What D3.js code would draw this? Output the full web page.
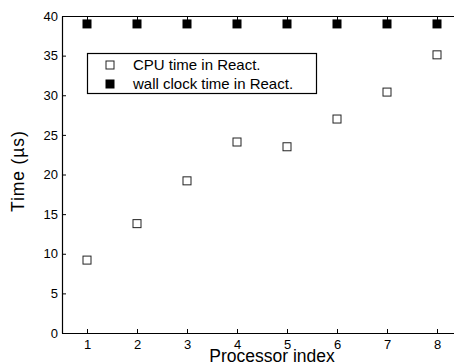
<!DOCTYPE html>
<html>
<head>
<meta charset="utf-8">
<script src="https://cdn.jsdelivr.net/npm/d3@7"></script>
<style>
  body { margin: 0; background: #fff; }
  svg text { font-family: "Liberation Sans", Arial, Helvetica, sans-serif; fill: #000; }
</style>
</head>
<body>
<div id="chart"></div>
<script>
var processors = [1, 2, 3, 4, 5, 6, 7, 8];
var cpuTime = [9.2, 13.8, 19.2, 24.1, 23.5, 27.0, 30.4, 35.1];
var wallTime = [39, 39, 39, 39, 39, 39, 39, 39];
var yTicks = [0, 5, 10, 15, 20, 25, 30, 35, 40];
var legendLabels = ["CPU time in React.", "wall clock time in React."];

var width = 454, height = 364;

var svg = d3.select("#chart").append("svg")
    .attr("width", width)
    .attr("height", height);

var x = d3.scaleLinear().domain([0.5, 8.5]).range([62, 462]);
var y = d3.scaleLinear().domain([0, 40]).range([333, 16]);

// axes with inward ticks
var bottom = svg.append("g")
    .attr("transform", "translate(0," + y(0) + ")")
    .call(d3.axisBottom(x).tickValues(processors).tickSizeInner(-4).tickSizeOuter(0).tickPadding(8));
var top = svg.append("g")
    .attr("transform", "translate(0," + y(40) + ")")
    .call(d3.axisTop(x).tickValues(processors).tickSizeInner(-4).tickSizeOuter(0).tickFormat(""));
var left = svg.append("g")
    .attr("transform", "translate(" + x(0.5) + ",0)")
    .call(d3.axisLeft(y).tickValues(yTicks).tickSizeInner(-4).tickSizeOuter(0).tickPadding(4));

svg.selectAll(".domain").attr("stroke", "#000").attr("stroke-width", 1.2);
svg.selectAll(".tick line").attr("stroke", "#000");
svg.selectAll(".tick text").style("font-size", "13px").attr("fill", "#000");
bottom.selectAll(".tick text").attr("dy", "0.6em");

// axis labels
svg.append("text")
    .attr("x", 272)
    .attr("y", 362)
    .style("text-anchor", "middle")
    .style("font-size", "17.5px")
    .text("Processor index");

svg.append("text")
    .attr("transform", "translate(24,212) rotate(-90)")
    .style("font-size", "17.5px")
    .style("letter-spacing", "0.9px")
    .text("Time (µs)");

// data points
svg.selectAll("rect.cpu")
    .data(processors)
    .enter()
    .append("rect")
    .attr("class", "cpu")
    .attr("x", function (d) { return x(d) - 4; })
    .attr("y", function (d, i) { return y(cpuTime[i]) - 4; })
    .attr("width", 8)
    .attr("height", 8)
    .attr("fill", "#fff")
    .attr("stroke", "#222")
    .attr("stroke-width", 1);

svg.selectAll("rect.wall")
    .data(processors)
    .enter()
    .append("rect")
    .attr("class", "wall")
    .attr("x", function (d) { return x(d) - 4.5; })
    .attr("y", function (d, i) { return y(wallTime[i]) - 4.5; })
    .attr("width", 9)
    .attr("height", 9)
    .attr("fill", "#000");

// legend
var legend = svg.append("g");
legend.append("rect")
    .attr("x", 87.5)
    .attr("y", 53.5)
    .attr("width", 229)
    .attr("height", 40)
    .attr("fill", "#fff")
    .attr("stroke", "#000")
    .attr("stroke-width", 1.2);

legend.append("rect")
    .attr("x", 106).attr("y", 61)
    .attr("width", 8).attr("height", 8)
    .attr("fill", "#fff").attr("stroke", "#222");
legend.append("rect")
    .attr("x", 105.5).attr("y", 79.5)
    .attr("width", 9).attr("height", 9)
    .attr("fill", "#000");

legend.selectAll("text")
    .data(legendLabels)
    .enter()
    .append("text")
    .attr("x", 133)
    .attr("y", function (d, i) { return 70 + i * 19; })
    .style("font-size", "15px")
    .text(function (d) { return d; });
</script>
</body>
</html>
